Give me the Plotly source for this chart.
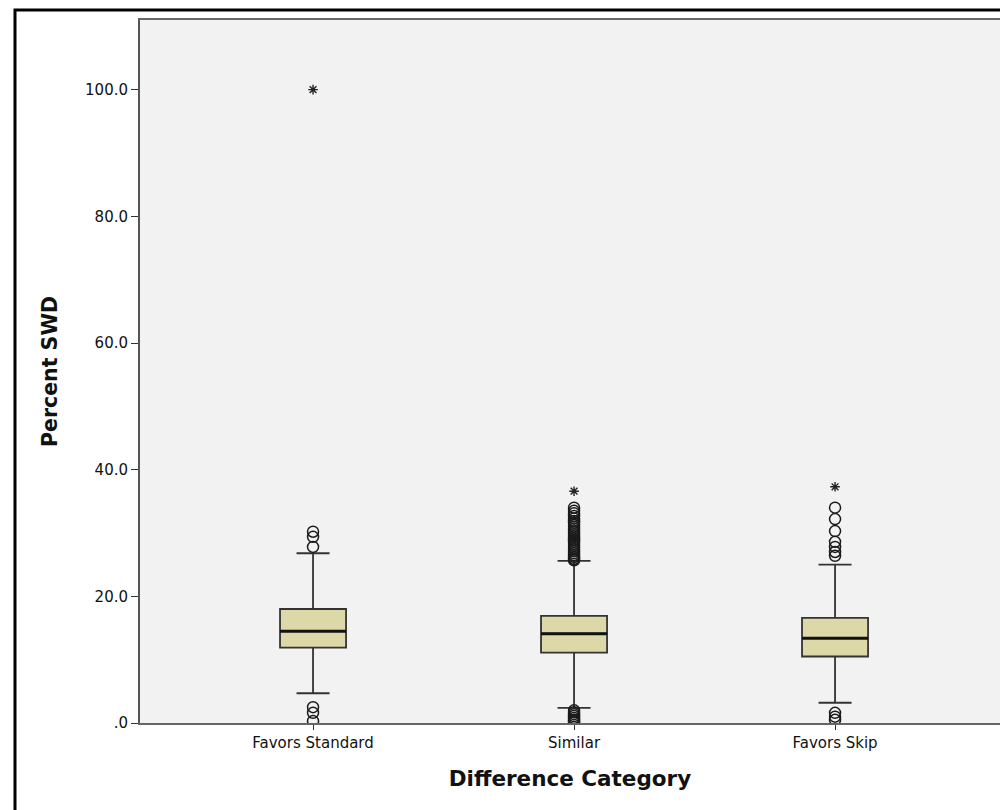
import plotly.graph_objects as go

categories = ["Favors Standard", "Similar", "Favors Skip"]
q1 = [11.9, 11.1, 10.5]
median = [14.5, 14.1, 13.4]
q3 = [18.0, 16.9, 16.6]
lower_whisker = [4.7, 2.4, 3.2]
upper_whisker = [26.8, 25.6, 25.0]

outliers_circle = [
    [30.2, 29.4, 27.8, 2.5, 1.6, 0.3],
    [34.0, 33.5, 33.1, 32.7, 32.3, 31.9, 31.6, 31.3, 31.0, 30.7, 30.4, 30.1,
     29.8, 29.5, 29.2, 28.9, 28.6, 28.3, 28.0, 27.7, 27.4, 27.1, 26.8, 26.5,
     26.2, 25.9, 25.7, 2.0, 1.7, 1.4, 1.1, 0.8, 0.5, 0.3, 0.1],
    [34.0, 32.2, 30.3, 28.6, 27.8, 27.0, 26.4, 1.6, 1.0, 0.5],
]
outliers_extreme = [[100.0], [36.6], [37.3]]

ytick_vals = [0, 20, 40, 60, 80, 100]
ytick_text = [".0", "20.0", "40.0", "60.0", "80.0", "100.0"]

box_width = 0.253
xpos = list(range(len(categories)))

fig = go.Figure()
fig.add_trace(go.Box(
    x=xpos, q1=q1, median=median, q3=q3,
    lowerfence=lower_whisker, upperfence=upper_whisker,
    width=box_width, whiskerwidth=0.5,
    fillcolor="#dcd8a8", line=dict(color="#333333", width=1.8),
    boxpoints=False, showlegend=False, hoverinfo="skip",
))

# median lines (thicker, black)
for i, m in enumerate(median):
    fig.add_shape(type="line", xref="x", yref="y",
                  x0=xpos[i] - box_width / 2, x1=xpos[i] + box_width / 2,
                  y0=m, y1=m, line=dict(color="#111111", width=3))

cx, cy, ex, ey = [], [], [], []
for i in xpos:
    cx += [i] * len(outliers_circle[i]); cy += outliers_circle[i]
    ex += [i] * len(outliers_extreme[i]); ey += outliers_extreme[i]

fig.add_trace(go.Scatter(
    x=cx, y=cy, mode="markers", showlegend=False, hoverinfo="skip",
    marker=dict(symbol="circle-open", size=11, color="#1a1a1a", line=dict(width=1.5)),
))
fig.add_trace(go.Scatter(
    x=ex, y=ey, mode="markers", showlegend=False, hoverinfo="skip",
    marker=dict(symbol="asterisk-open", size=8, color="#222222", line=dict(width=1.4)),
))

# outer frame
L, T, W, H = 140, 20, 860, 703
fig.add_shape(type="rect", xref="paper", yref="paper",
              x0=(15 - L) / W, x1=(1012 - L) / W,
              y0=(723 - 822) / H, y1=(723 - 10) / H,
              line=dict(color="black", width=3), fillcolor="rgba(0,0,0,0)")

font = "DejaVu Sans, Verdana, sans-serif"
fig.update_layout(
    width=1000, height=810,
    margin=dict(l=L, r=0, t=T, b=87),
    paper_bgcolor="white", plot_bgcolor="#f2f2f2",
    font=dict(family=font, color="#111111", size=13),
    xaxis=dict(
        range=[-0.663, 2.632], tickvals=xpos, ticktext=categories,
        ticks="outside", ticklen=5, tickcolor="#333", tickfont=dict(size=15),
        showline=True, linecolor="#666666", linewidth=2, mirror=True,
        showgrid=False, zeroline=False,
        title=dict(text="<b>Difference Category</b>", font=dict(size=21.5), standoff=20),
    ),
    yaxis=dict(
        range=[0, 111.0], tickvals=ytick_vals, ticktext=ytick_text,
        ticks="outside", ticklen=7, tickcolor="#333", tickfont=dict(size=15),
        showline=True, linecolor="#555555", linewidth=2,
        showgrid=False, zeroline=False,
        title=dict(text="<b>Percent SWD</b>", font=dict(size=20.5), standoff=22),
    ),
)

fig.write_html("out.html")
